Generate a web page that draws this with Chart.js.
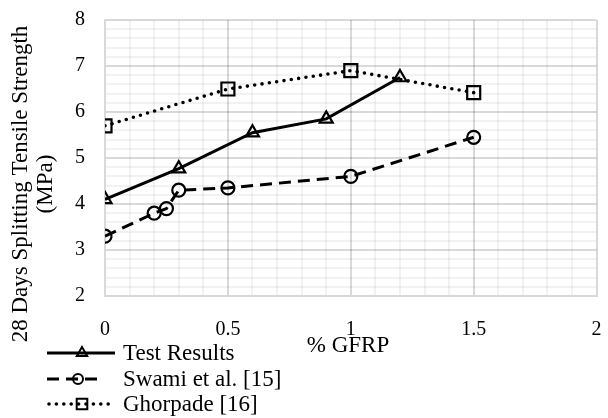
<!DOCTYPE html>
<html>
<head>
<meta charset="utf-8">
<script src="https://cdn.jsdelivr.net/npm/chart.js@4"></script>
<style>
html,body{margin:0;padding:0;background:#fff;}
#wrap{width:608px;height:418px;position:relative;}
</style>
</head>
<body>
<div id="wrap"><canvas id="c" width="608" height="418"></canvas></div>
<script>
// ---- data ----
const testX = [0, 0.3, 0.6, 0.9, 1.2];
const testY = [4.1, 4.77, 5.55, 5.85, 6.75];
const swamiX = [0, 0.2, 0.25, 0.3, 0.5, 1.0, 1.5];
const swamiY = [3.3, 3.8, 3.9, 4.3, 4.35, 4.6, 5.45];
const ghorX = [0, 0.5, 1.0, 1.5];
const ghorY = [5.7, 6.5, 6.9, 6.42];
const seriesNames = ['Test Results', 'Swami et al. [15]', 'Ghorpade [16]'];
const xTitle = '% GFRP';
const yTitleLines = ['28 Days Splitting Tensile Strength', '(MPa)'];

const pts = (xs, ys) => xs.map((x, i) => ({x: x, y: ys[i]}));
const SERIF = '"Liberation Serif", "DejaVu Serif", serif';
const isMult = (v, m) => Math.abs(v / m - Math.round(v / m)) < 1e-6;

const styles = [
  {dash: [], cap: 'butt', width: 3, style: 'triangle', r: 7.5, lr: 6},
  {dash: [12, 7], cap: 'butt', width: 3, style: 'circle', r: 6.5, lr: 5},
  {dash: [0, 7.4], cap: 'round', width: 3.6, style: 'rect', r: 9.2, lr: 7.5}
];

function drawMarker(ctx, style, x, y, r) {
  ctx.beginPath();
  if (style === 'triangle') {
    for (let k = 0; k < 3; k++) {
      const a = k * 2 * Math.PI / 3;
      const px = x + Math.sin(a) * r, py = y - Math.cos(a) * r;
      if (k === 0) ctx.moveTo(px, py); else ctx.lineTo(px, py);
    }
    ctx.closePath();
  } else if (style === 'circle') {
    ctx.arc(x, y, r, 0, Math.PI * 2);
  } else {
    const s = r * Math.SQRT1_2;
    ctx.rect(x - s, y - s, 2 * s, 2 * s);
  }
  ctx.stroke();
}

const decor = {
  id: 'decor',
  afterDraw(chart) {
    const ctx = chart.ctx;
    ctx.save();
    ctx.fillStyle = '#000';
    ctx.font = '23px ' + SERIF;
    ctx.textAlign = 'center';
    ctx.textBaseline = 'middle';
    // y title
    ctx.save();
    ctx.translate(21, 184);
    ctx.rotate(-Math.PI / 2);
    ctx.fillText(yTitleLines[0], 0, 0);
    ctx.restore();
    ctx.save();
    ctx.translate(46, 184);
    ctx.rotate(-Math.PI / 2);
    ctx.fillText(yTitleLines[1], 0, 0);
    ctx.restore();
    // x title
    ctx.fillText(xTitle, 348, 346);
    // legend
    const rows = [353, 379, 404];
    chart.data.datasets.forEach((ds, i) => {
      const st = styles[i];
      const y = rows[i];
      ctx.strokeStyle = '#000';
      ctx.lineWidth = st.width;
      ctx.setLineDash(st.dash);
      ctx.lineCap = st.cap;
      ctx.beginPath();
      ctx.moveTo(i === 2 ? 49 : 47, y);
      ctx.lineTo(i === 1 ? 103 : 115, y);
      ctx.stroke();
      ctx.setLineDash([]);
      ctx.lineCap = 'butt';
      ctx.lineWidth = 2;
      drawMarker(ctx, st.style, i === 1 ? 78 : 82, y, st.lr);
      ctx.textAlign = 'left';
      ctx.fillStyle = '#000';
      ctx.fillText(ds.label, 123, y + 1);
    });
    ctx.restore();
  }
};

const datasets = [
  {label: seriesNames[0], data: pts(testX, testY)},
  {label: seriesNames[1], data: pts(swamiX, swamiY)},
  {label: seriesNames[2], data: pts(ghorX, ghorY)}
].map((d, i) => Object.assign(d, {
  showLine: true,
  borderColor: '#000',
  borderWidth: styles[i].width,
  borderDash: styles[i].dash,
  borderCapStyle: styles[i].cap,
  pointStyle: styles[i].style,
  pointRadius: styles[i].r,
  pointHoverRadius: styles[i].r,
  pointBorderWidth: 2.2,
  pointBorderColor: '#000',
  pointBackgroundColor: 'rgba(0,0,0,0)',
  backgroundColor: 'rgba(0,0,0,0)',
  tension: 0,
  fill: false
}));

function zeroPad(s) { s.paddingLeft = 0; s.paddingRight = 0; s.paddingTop = 0; s.paddingBottom = 0; }
const MAJOR = 'rgba(0,0,0,0.15)';
const MINOR = 'rgba(0,0,0,0.05)';

new Chart(document.getElementById('c'), {
  type: 'scatter',
  data: {datasets: datasets},
  options: {
    responsive: false,
    animation: false,
    devicePixelRatio: 1,
    layout: {padding: {left: 0, right: 4, top: 20, bottom: 0}},
    plugins: {legend: {display: false}, tooltip: {enabled: false}},
    scales: {
      x: {
        type: 'linear', min: 0, max: 2,
        afterFit(s) { s.height = 122; zeroPad(s); },
        ticks: {
          stepSize: 0.1, autoSkip: false, maxRotation: 0, padding: 22,
          color: '#000', font: {family: SERIF, size: 20},
          callback: v => isMult(v, 0.5) ? String(Math.round(v * 10) / 10) : ''
        },
        grid: {
          drawTicks: false, lineWidth: 2,
          color: c => isMult(c.tick.value, 0.5) ? MAJOR : MINOR
        },
        border: {display: true, color: '#d9d9d9', width: 2}
      },
      y: {
        type: 'linear', min: 2, max: 8,
        afterFit(s) { s.width = 105; zeroPad(s); },
        ticks: {
          stepSize: 0.2, autoSkip: false, padding: 20,
          color: '#000', font: {family: SERIF, size: 20},
          callback: v => isMult(v, 1) ? String(Math.round(v)) : ''
        },
        grid: {
          drawTicks: false, lineWidth: 2,
          color: c => isMult(c.tick.value, 1) ? MAJOR : MINOR
        },
        border: {display: true, color: '#d9d9d9', width: 2}
      }
    }
  },
  plugins: [decor]
});
</script>
</body>
</html>
